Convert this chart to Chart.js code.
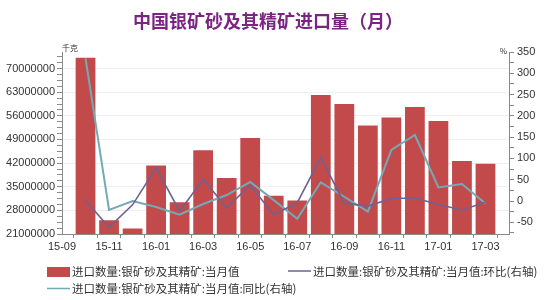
<!DOCTYPE html>
<html>
<head>
<meta charset="utf-8">
<script src="https://cdn.jsdelivr.net/npm/chart.js@4"></script>
<style>
    html, body { margin: 0; padding: 0; background: #fff; }
    #wrap { width: 550px; height: 300px; }
</style>
</head>
<body>
<div id="wrap"><canvas id="silverChart" width="550" height="300"></canvas></div>
<script>
// months on the axis (first and last only pad the axis ends)
var months = ['15-09', '15-10', '15-11', '15-12', '16-01', '16-02', '16-03', '16-04', '16-05', '16-06',
    '16-07', '16-08', '16-09', '16-10', '16-11', '16-12', '17-01', '17-02', '17-03', '17-04'];

// 进口数量 当月值 (千克)
var importVolume = [null, 73200000, 25100000, 22600000, 41300000, 30400000, 45800000, 37600000, 49400000, 32300000,
    30900000, 62200000, 59500000, 53100000, 55500000, 58600000, 54500000, 42600000, 41800000, null];

// 环比 (%)
var momChange = [null, 1, -62, -9, 78, -24, 51, -16, 37, -32,
    -4, 102, -5, -12, 6, 7, -8, -21, -3, null];

// 同比 (%)
var yoyChange = [null, 335, -21, 0, -14, -32, -7, 14, 45, 2,
    -42, 44, 10, -25, 120, 155, 32, 40, -6, null];

var leftTicks = [21000000, 28000000, 35000000, 42000000, 49000000, 56000000, 63000000, 70000000];
var rightTicks = [-50, 0, 50, 100, 150, 200, 250, 300, 350];

var seriesNames = ['进口数量:银矿砂及其精矿:当月值', '进口数量:银矿砂及其精矿:当月值:环比(右轴)', '进口数量:银矿砂及其精矿:当月值:同比(右轴)'];

var barColor = '#c24a4a';
var momColor = '#6f6291';
var yoyColor = '#74a9b6';
var axisColor = '#8a8a8a';
var textColor = '#333333';
var labelFont = { family: 'Liberation Sans, Arial, sans-serif', size: 11 };
var cjkFont = '"Noto Sans CJK SC", sans-serif';

var buildMinor = function (from, to, step) {
    var out = [];
    for (var v = from; v <= to + 1e-6; v += step) {
        out.push({ value: v });
    }
    return out;
};

var decoPlugin = {
    id: 'deco',
    afterDraw: function (chart) {
        var ctx = chart.ctx;
        var area = chart.chartArea;
        ctx.save();

        // title
        ctx.fillStyle = '#7b2482';
        ctx.font = 'bold 18px ' + cjkFont;
        ctx.textAlign = 'center';
        ctx.textBaseline = 'middle';
        ctx.fillText('中国银矿砂及其精矿进口量（月）', 268, 21);

        // unit labels
        ctx.fillStyle = textColor;
        ctx.font = '8px ' + cjkFont;
        ctx.textAlign = 'left';
        ctx.fillText('千克', area.left, area.top - 4);
        ctx.textAlign = 'right';
        ctx.fillText('%', area.right - 2, area.top - 1);

        // legend
        ctx.font = '11.5px ' + cjkFont;
        ctx.textAlign = 'left';
        ctx.fillStyle = barColor;
        ctx.fillRect(47, 267, 23, 10);
        ctx.fillStyle = textColor;
        ctx.fillText(seriesNames[0], 72, 272);

        ctx.strokeStyle = momColor;
        ctx.lineWidth = 1.5;
        ctx.beginPath();
        ctx.moveTo(288, 271);
        ctx.lineTo(311, 271);
        ctx.stroke();
        ctx.fillText(seriesNames[1], 313, 272);

        ctx.strokeStyle = yoyColor;
        ctx.beginPath();
        ctx.moveTo(47, 288.5);
        ctx.lineTo(70, 288.5);
        ctx.stroke();
        ctx.fillText(seriesNames[2], 72, 289);

        ctx.restore();
    }
};

var config = {
    data: {
        labels: months,
        datasets: [
            {
                type: 'line',
                label: seriesNames[1],
                data: momChange,
                yAxisID: 'y1',
                borderColor: momColor,
                borderWidth: 1.6,
                pointRadius: 0,
                tension: 0,
                order: 1
            },
            {
                type: 'line',
                label: seriesNames[2],
                data: yoyChange,
                yAxisID: 'y1',
                borderColor: yoyColor,
                borderWidth: 2,
                pointRadius: 0,
                tension: 0,
                order: 2
            },
            {
                type: 'bar',
                label: seriesNames[0],
                data: importVolume,
                yAxisID: 'y',
                backgroundColor: barColor,
                borderWidth: 0,
                barPercentage: 0.84,
                categoryPercentage: 1,
                order: 3
            }
        ]
    },
    options: {
        responsive: false,
        animation: false,
        layout: {
            padding: { top: 52, left: 0, right: 0, bottom: 0 }
        },
        plugins: {
            legend: { display: false },
            title: { display: false },
            tooltip: { enabled: false }
        },
        scales: {
            x: {
                offset: false,
                afterFit: function (scale) { scale.height = 66; },
                grid: {
                    drawOnChartArea: false,
                    tickLength: 4,
                    tickColor: axisColor
                },
                border: { color: axisColor, width: 1 },
                ticks: {
                    autoSkip: false,
                    maxRotation: 0,
                    padding: 2,
                    color: textColor,
                    font: labelFont,
                    callback: function (value, index) {
                        return (index % 2 === 0 && index < months.length - 1) ? months[index] : '';
                    }
                }
            },
            y: {
                position: 'left',
                min: 21000000,
                max: 74900000,
                afterFit: function (scale) { scale.width = 62; },
                afterBuildTicks: function (scale) {
                    scale.ticks = buildMinor(21000000, 74900000, 1750000);
                },
                grid: {
                    tickLength: 5,
                    tickColor: axisColor,
                    color: function (c) {
                        var v = c.tick ? c.tick.value : 0;
                        return (leftTicks.indexOf(Math.round(v)) >= 0 && v > 21000000) ? '#efefef' : 'rgba(0,0,0,0)';
                    }
                },
                border: { color: axisColor, width: 1 },
                ticks: {
                    autoSkip: false,
                    padding: 2,
                    color: textColor,
                    font: labelFont,
                    callback: function (value) {
                        return leftTicks.indexOf(Math.round(value)) >= 0 ? String(Math.round(value)) : '';
                    }
                }
            },
            y1: {
                position: 'right',
                min: -77.5,
                max: 350,
                afterFit: function (scale) { scale.width = 41; },
                afterBuildTicks: function (scale) {
                    scale.ticks = buildMinor(-75, 350, 25);
                },
                grid: {
                    drawOnChartArea: false,
                    tickLength: 5,
                    tickColor: axisColor
                },
                border: { color: axisColor, width: 1 },
                ticks: {
                    autoSkip: false,
                    padding: 3,
                    color: textColor,
                    font: labelFont,
                    callback: function (value) {
                        return rightTicks.indexOf(Math.round(value)) >= 0 ? String(Math.round(value)) : '';
                    }
                }
            }
        }
    },
    plugins: [decoPlugin]
};

var silverChart = new Chart(document.getElementById('silverChart'), config);
</script>
</body>
</html>
